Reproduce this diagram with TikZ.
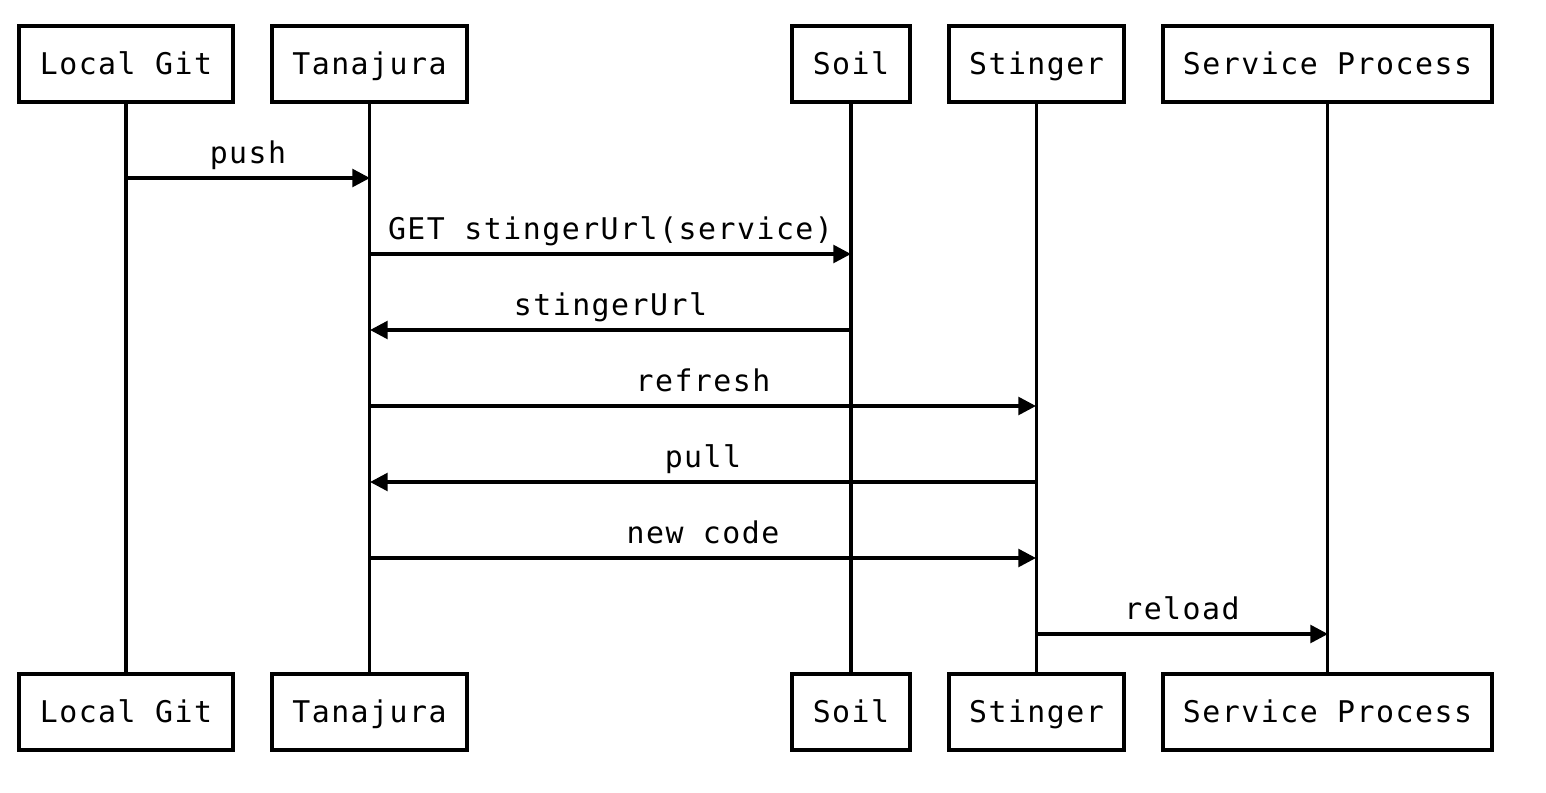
\documentclass[tikz,border=0pt]{standalone}
\usepackage{fontspec}
\setmonofont[LetterSpace=5]{DejaVu Sans Mono}
\usetikzlibrary{arrows.meta}
\begin{document}
\begin{tikzpicture}[x=0.02cm,y=-0.02cm,
  actor/.style={draw,line width=2pt,minimum height=76*0.02cm,inner sep=0pt,text height=12.4pt,text depth=0pt,font=\ttfamily\fontsize{17}{20}\selectfont},
  life/.style={line width=2pt},
  msg/.style={line width=2pt,-{Triangle[length=10pt,width=10pt]}},
  lbl/.style={font=\ttfamily\fontsize{17}{20}\selectfont,anchor=base,inner sep=0pt}]
\useasboundingbox (0,0) rectangle (1546,792);
% top boxes
\node[actor,minimum width=214*0.02cm] (lgT) at (126,64) {Local Git};
\node[actor,minimum width=195*0.02cm] (tnT) at (369.5,64) {Tanajura};
\node[actor,minimum width=118*0.02cm] (soT) at (851,64) {Soil};
\node[actor,minimum width=175*0.02cm] (stT) at (1036.5,64) {Stinger};
\node[actor,minimum width=329*0.02cm] (spT) at (1327.5,64) {Service Process};
% bottom boxes
\node[actor,minimum width=214*0.02cm] (lgB) at (126,712) {Local Git};
\node[actor,minimum width=195*0.02cm] (tnB) at (369.5,712) {Tanajura};
\node[actor,minimum width=118*0.02cm] (soB) at (851,712) {Soil};
\node[actor,minimum width=175*0.02cm] (stB) at (1036.5,712) {Stinger};
\node[actor,minimum width=329*0.02cm] (spB) at (1327.5,712) {Service Process};
% lifelines
\draw[life] (lgT) -- (lgB);
\draw[life] (tnT) -- (tnB);
\draw[life] (soT) -- (soB);
\draw[life] (stT) -- (stB);
\draw[life] (spT) -- (spB);
% message points
\coordinate (lg1) at (126,178); \coordinate (tn1) at (370,178);
\coordinate (tn2) at (370,254); \coordinate (so2) at (851,254);
\coordinate (tn3) at (370,330); \coordinate (so3) at (851,330);
\coordinate (tn4) at (370,406); \coordinate (st4) at (1036,406);
\coordinate (tn5) at (370,482); \coordinate (st5) at (1036,482);
\coordinate (tn6) at (370,558); \coordinate (st6) at (1036,558);
\coordinate (st7) at (1036,634); \coordinate (sp7) at (1328,634);
\draw[msg] (lg1) -- (tn1);
\draw[msg] (tn2) -- (so2);
\draw[msg] (so3) -- (tn3);
\draw[msg] (tn4) -- (st4);
\draw[msg] (st5) -- (tn5);
\draw[msg] (tn6) -- (st6);
\draw[msg] (st7) -- (sp7);
% labels
\node[lbl] (l1) at (248,163) {push};
\node[lbl] (l2) at (610.5,239) {GET stingerUrl(service)};
\node[lbl] (l3) at (610.5,315) {stingerUrl};
\node[lbl] (l4) at (703,391) {refresh};
\node[lbl] (l5) at (703,467) {pull};
\node[lbl] (l6) at (703,543) {new code};
\node[lbl] (l7) at (1182,619) {reload};
\end{tikzpicture}
\end{document}
